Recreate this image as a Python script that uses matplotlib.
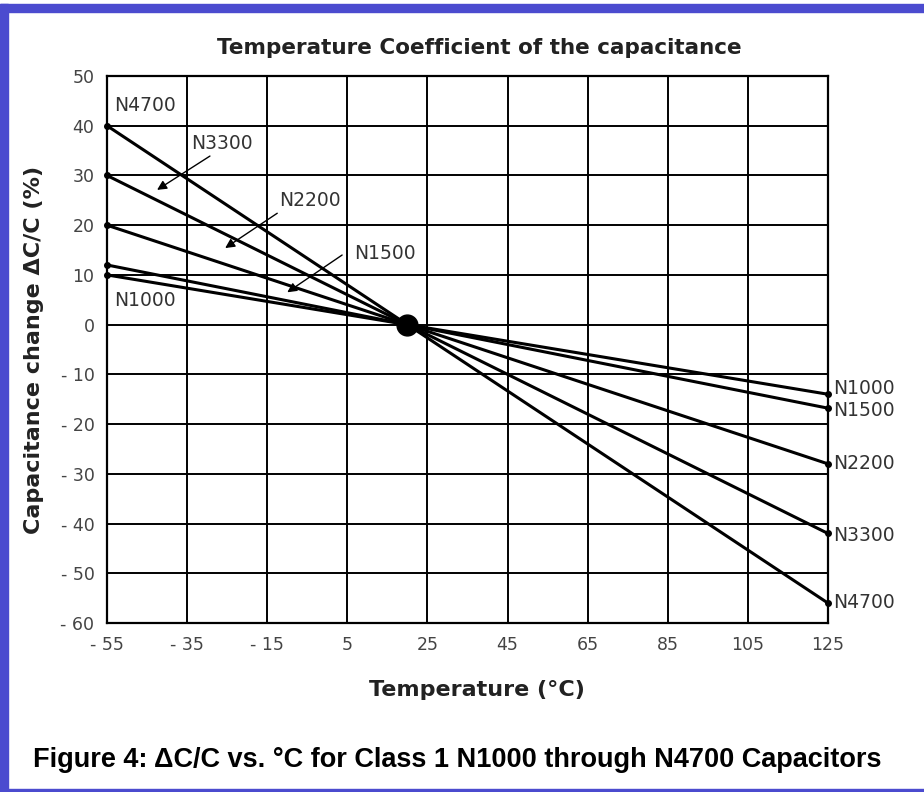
import matplotlib
matplotlib.use("Agg")
import matplotlib.pyplot as plt
from matplotlib.patches import Rectangle

# data
temps = [-55, 20, 125]
n1000 = [10, 0, -14]
n1500 = [12, 0, -16.8]
n2200 = [20, 0, -28]
n3300 = [30, 0, -42]
n4700 = [40, 0, -56]

series = {"N1000": n1000, "N1500": n1500, "N2200": n2200,
          "N3300": n3300, "N4700": n4700}

x_ticks = [-55, -35, -15, 5, 25, 45, 65, 85, 105, 125]
x_labels = ["- 55", "- 35", "- 15", "5", "25", "45", "65", "85", "105", "125"]
y_ticks = [50, 40, 30, 20, 10, 0, -10, -20, -30, -40, -50, -60]
y_labels = ["50", "40", "30", "20", "10", "0", "- 10", "- 20", "- 30",
            "- 40", "- 50", "- 60"]

plt.rcParams['font.family'] = ['DejaVu Sans']

fig = plt.figure(figsize=(9.24, 7.92), dpi=100)
blue = "#4b4bcf"
fig.patches.append(Rectangle((0, 1 - 12 / 792), 1, 8 / 792, transform=fig.transFigure,
                             color=blue, zorder=0))
fig.patches.append(Rectangle((0, 0), 8 / 924, 1 - 4 / 792, transform=fig.transFigure,
                             color=blue, zorder=0))
fig.patches.append(Rectangle((0, 1 / 792), 1, 2 / 792, transform=fig.transFigure,
                             color=blue, zorder=0))

ax = fig.add_axes([107 / 924, 1 - 623 / 792, (828 - 107) / 924, (623 - 76) / 792])
ax.set_xlim(-55, 125)
ax.set_ylim(-60, 50)

ax.set_xticks(x_ticks)
ax.set_xticklabels(x_labels)
ax.set_yticks(y_ticks)
ax.set_yticklabels(y_labels)
ax.tick_params(length=0, labelsize=12.5, labelcolor="#444444", pad=9)
ax.grid(True, color="black", linewidth=1.4)
for sp in ax.spines.values():
    sp.set_linewidth(1.6)

for name, vals in series.items():
    ax.plot(temps, vals, color="black", linewidth=2.2, solid_capstyle="butt",
            clip_on=False, zorder=3)
    ax.plot([temps[0], temps[-1]], [vals[0], vals[-1]], "o", color="black",
            markersize=4, clip_on=False, zorder=3)

ax.plot([temps[1]], [0], "o", color="black", markersize=15, zorder=4)

lab = dict(fontsize=13.5, color="#333333", va="center")
ax.text(-45.5, 44, "N4700", ha="center", **lab)
ax.text(-45.5, 4.9, "N1000", ha="center", **lab)
arrow = dict(arrowstyle="-|>", color="black", lw=1.0, mutation_scale=14,
             shrinkA=0, shrinkB=0)
ax.annotate("", xy=(-42.5, 27.1), xytext=(-29.3, 33.9), arrowprops=arrow)
ax.text(-26.3, 36.5, "N3300", ha="center", **lab)
ax.annotate("", xy=(-25.5, 15.4), xytext=(-12.5, 22.4), arrowprops=arrow)
ax.text(-4.3, 25, "N2200", ha="center", **lab)
ax.annotate("", xy=(-10, 6.5), xytext=(3.7, 14.0), arrowprops=arrow)
ax.text(14.4, 14.4, "N1500", ha="center", **lab)

right_pos = {"N1000": -12.8, "N1500": -17.2, "N2200": -28, "N3300": -42.4,
             "N4700": -55.8}
for name, yv in right_pos.items():
    ax.text(126.3, yv, name, ha="left", clip_on=False, **lab)

ax.set_title("Temperature Coefficient of the capacitance", fontsize=15.5,
             fontweight="bold", color="#222222", pad=16)
ax.title.set_x(0.517)
ax.set_xlabel("Temperature (°C)", fontsize=16, fontweight="bold",
              color="#222222", labelpad=20)
ax.xaxis.set_label_coords(0.513, -0.105)
ax.set_ylabel("Capacitance change ΔC/C (%)", fontsize=16, fontweight="bold",
              color="#222222", labelpad=12)

fig.text(457 / 924, 1 - 760 / 792,
         "Figure 4: ΔC/C vs. °C for Class 1 N1000 through N4700 Capacitors",
         ha="center", va="center", fontsize=19.5, fontweight="bold",
         family=["Liberation Sans", "DejaVu Sans"])

fig.savefig("out.png", dpi=100)
